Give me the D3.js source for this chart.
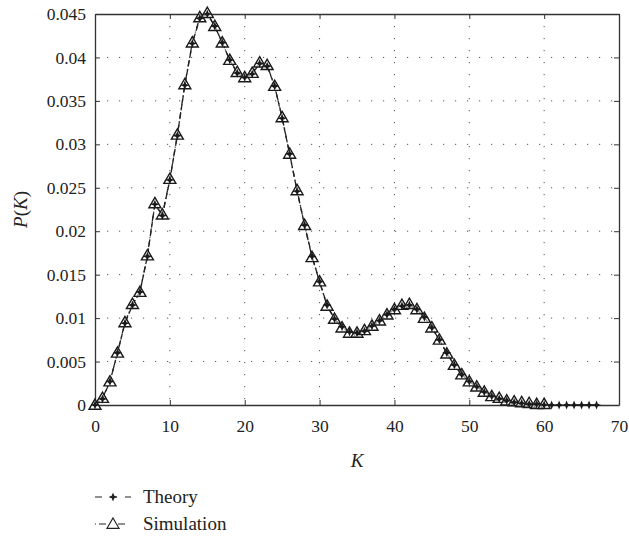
<!DOCTYPE html>
<html>
<head>
<meta charset="utf-8">
<script src="https://cdn.jsdelivr.net/npm/d3@7"></script>
<style>
  body { margin: 0; background: #fff; }
</style>
</head>
<body>
<div id="chart"></div>
<script>
// K values and probabilities
const theoryK = d3.range(0, 68);
const theoryP = [
  0, 0.0007, 0.0027, 0.0060, 0.0094, 0.0115, 0.0130, 0.0171, 0.0231, 0.0218,
  0.0259, 0.0310, 0.0368, 0.0416, 0.0445, 0.0450, 0.0436, 0.0417, 0.0397, 0.0382,
  0.0377, 0.0381, 0.0393, 0.0390, 0.0367, 0.0330, 0.0289, 0.0246, 0.0207, 0.0171,
  0.0142, 0.0115, 0.0099, 0.0090, 0.0084, 0.0083, 0.0085, 0.0091, 0.0097, 0.0104,
  0.0110, 0.0114, 0.0115, 0.0110, 0.0101, 0.0089, 0.0075, 0.0060, 0.0046, 0.0035,
  0.0027, 0.0021, 0.0015, 0.0010, 0.0007, 0.0005, 0.0003, 0.0002, 0.0001, 0.0001,
  0.0000, 0, 0, 0, 0, 0, 0, 0
];
const simK = d3.range(0, 61);
const simP = [
  0, 0.0008, 0.0027, 0.0060, 0.0095, 0.0116, 0.0130, 0.0172, 0.0232, 0.0219,
  0.0260, 0.0311, 0.0369, 0.0417, 0.0446, 0.0451, 0.0436, 0.0417, 0.0397, 0.0383,
  0.0377, 0.0382, 0.0394, 0.0391, 0.0367, 0.0331, 0.0289, 0.0247, 0.0207, 0.0170,
  0.0142, 0.0114, 0.0099, 0.0089, 0.0083, 0.0083, 0.0086, 0.0091, 0.0097, 0.0104,
  0.0110, 0.0115, 0.0116, 0.0110, 0.0100, 0.0089, 0.0075, 0.0059, 0.0046, 0.0035,
  0.0027, 0.0021, 0.0015, 0.0010, 0.0008, 0.0005, 0.0004, 0.0003, 0.0002, 0.0001,
  0.0001
];
const xTicks = [0, 10, 20, 30, 40, 50, 60, 70];
const yTicks = [0, 0.005, 0.01, 0.015, 0.02, 0.025, 0.03, 0.035, 0.04, 0.045];
const seriesNames = ["Theory", "Simulation"];

const serif = '"Liberation Serif", "Times New Roman", "DejaVu Serif", serif';

const width = 629, height = 541;
const margin = { top: 14, right: 10, bottom: 136, left: 95 };
const innerW = width - margin.left - margin.right;
const innerH = height - margin.top - margin.bottom;

const svg = d3.select("#chart").append("svg")
  .attr("width", width)
  .attr("height", height)
  .style("font-family", serif);

const g = svg.append("g").attr("transform", `translate(${margin.left},${margin.top})`);

const x = d3.scaleLinear().domain([0, 70]).range([0, innerW]);
const y = d3.scaleLinear().domain([0, 0.045]).range([innerH, 0]);

// dotted grid
g.append("g").selectAll("line").data(xTicks.slice(1, -1)).join("line")
  .attr("x1", d => x(d)).attr("x2", d => x(d))
  .attr("y1", 0).attr("y2", innerH)
  .attr("stroke", "#555").attr("stroke-width", 1)
  .attr("stroke-dasharray", "1.2,10.8");
g.append("g").selectAll("line").data(yTicks.slice(1, -1)).join("line")
  .attr("y1", d => y(d)).attr("y2", d => y(d))
  .attr("x1", 0).attr("x2", innerW)
  .attr("stroke", "#555").attr("stroke-width", 1)
  .attr("stroke-dasharray", "1.2,10.8");

// axes, ticks pointing inward
const fmtY = d => d === 0 ? "0" : String(+d.toFixed(3));
const xAxis = g.append("g").attr("transform", `translate(0,${innerH})`)
  .call(d3.axisBottom(x).tickValues(xTicks).tickSizeInner(-5).tickSizeOuter(0).tickPadding(15));
const yAxis = g.append("g")
  .call(d3.axisLeft(y).tickValues(yTicks).tickFormat(fmtY).tickSizeInner(-5).tickSizeOuter(0).tickPadding(9));
g.append("g")
  .call(d3.axisTop(x).tickValues(xTicks).tickSizeInner(-5).tickSizeOuter(0).tickFormat(""));
g.append("g").attr("transform", `translate(${innerW},0)`)
  .call(d3.axisRight(y).tickValues(yTicks).tickSizeInner(-5).tickSizeOuter(0).tickFormat(""));

g.selectAll("g").attr("font-family", serif);
g.selectAll(".domain").attr("stroke", "#333").attr("stroke-width", 1.3);
g.selectAll(".tick line").attr("stroke", "#333");
[xAxis, yAxis].forEach(a => a.selectAll("text")
  .style("font-family", serif)
  .style("font-size", "17.5px").attr("fill", "#222"));

// lines
const theoryData = theoryK.map((k, i) => ({ k, p: theoryP[i] }));
const simData = simK.map((k, i) => ({ k, p: simP[i] }));
const line = d3.line().x(d => x(d.k)).y(d => y(d.p));

g.append("path").datum(simData)
  .attr("d", line).attr("fill", "none")
  .attr("stroke", "#222").attr("stroke-width", 1.3)
  .attr("stroke-dasharray", "6,3,1,3");
g.append("path").datum(theoryData)
  .attr("d", line).attr("fill", "none")
  .attr("stroke", "#222").attr("stroke-width", 1.3)
  .attr("stroke-dasharray", "6,3");

// markers
const starPath = "M0,-4.5 L1.3,-1.3 L4.5,0 L1.3,1.3 L0,4.5 L-1.3,1.3 L-4.5,0 L-1.3,-1.3 Z";
const triPath = "M0,-6 L6,4.3 L-6,4.3 Z";

g.append("g").selectAll("path").data(simData).join("path")
  .attr("transform", d => `translate(${x(d.k)},${y(d.p)})`)
  .attr("d", triPath)
  .attr("fill", "#fff").attr("fill-opacity", 0.55)
  .attr("stroke", "#1a1a1a").attr("stroke-width", 1.4);
g.append("g").selectAll("path").data(theoryData).join("path")
  .attr("transform", d => `translate(${x(d.k)},${y(d.p)})`)
  .attr("d", starPath)
  .attr("fill", "#1a1a1a");

// axis titles
svg.append("text")
  .attr("x", margin.left + innerW / 2).attr("y", 467)
  .attr("text-anchor", "middle").attr("fill", "#222")
  .style("font-family", serif)
  .style("font-size", "19px").style("font-style", "italic")
  .text("K");
const yl = svg.append("text")
  .attr("transform", `translate(27,${margin.top + innerH / 2}) rotate(-90)`)
  .attr("text-anchor", "middle").attr("fill", "#222")
  .style("font-family", serif)
  .style("font-size", "19px");
yl.append("tspan").style("font-style", "italic").text("P");
yl.append("tspan").text("(");
yl.append("tspan").style("font-style", "italic").text("K");
yl.append("tspan").text(")");

// legend
const legend = svg.append("g").attr("transform", "translate(95,497)");
seriesNames.forEach((name, i) => {
  const row = legend.append("g").attr("transform", `translate(0,${i * 27})`);
  row.append("line")
    .attr("x1", 0).attr("x2", 36).attr("y1", 0).attr("y2", 0)
    .attr("stroke", "#222").attr("stroke-width", 1.2)
    .attr("stroke-dasharray", i === 0 ? "7,8" : "1,3,7,8");
  row.append("path")
    .attr("transform", "translate(18,0)")
    .attr("d", i === 0 ? starPath : triPath)
    .attr("fill", i === 0 ? "#222" : "#fff")
    .attr("stroke", i === 0 ? "none" : "#222")
    .attr("stroke-width", 1.2);
  row.append("text")
    .attr("x", 48).attr("y", 6)
    .attr("fill", "#222")
    .style("font-family", serif)
    .style("font-size", "19px")
    .text(name);
});
</script>
</body>
</html>
